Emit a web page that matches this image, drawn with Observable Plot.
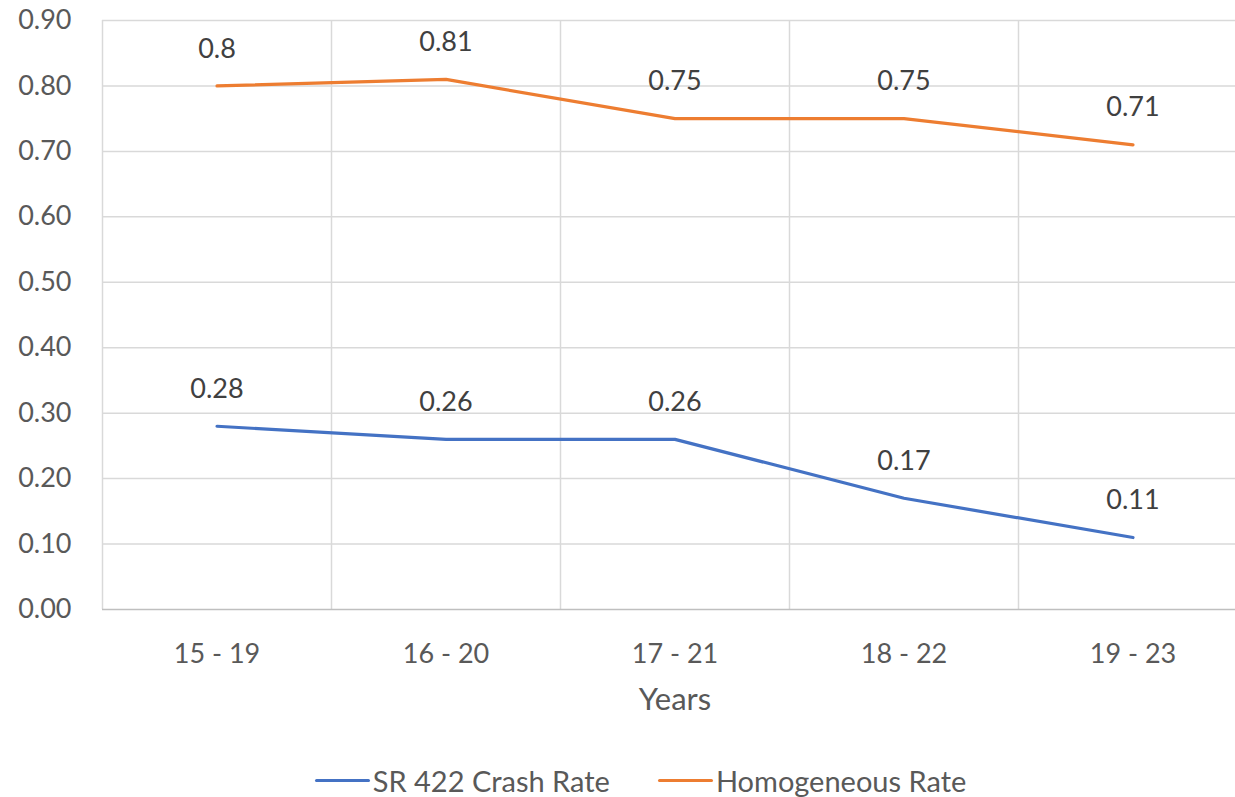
<!DOCTYPE html>
<html>
<head>
<meta charset="utf-8">
<script src="https://cdn.jsdelivr.net/npm/d3@7"></script>
<script src="https://cdn.jsdelivr.net/npm/@observablehq/plot@0.6"></script>
<style>
  html, body { margin: 0; padding: 0; background: #fff; overflow: hidden; }
  #chart svg { overflow: visible; display: block; }
  .legend { display: flex; justify-content: center; align-items: center; height: 52px; margin-top: 9px;
    font-family: Lato, sans-serif; font-size: 29px; color: #595959; margin-left: 46px; }
  .legend .item { display: flex; align-items: center; margin: 0 24px; }
  .legend .sw { width: 55px; height: 3px; border-radius: 2px; margin-right: 3px; }
</style>
</head>
<body>
<div id="chart"></div>
<script>
const categories = ["15 - 19", "16 - 20", "17 - 21", "18 - 22", "19 - 23"];
const crashRate = [0.28, 0.26, 0.26, 0.17, 0.11];
const homogeneousRate = [0.8, 0.81, 0.75, 0.75, 0.71];
const crashLabels = ["0.28", "0.26", "0.26", "0.17", "0.11"];
const homogeneousLabels = ["0.8", "0.81", "0.75", "0.75", "0.71"];
const yTicks = [0, 0.1, 0.2, 0.3, 0.4, 0.5, 0.6, 0.7, 0.8, 0.9];
const seriesNames = ["SR 422 Crash Rate", "Homogeneous Rate"];
const seriesColors = ["#4472C4", "#ED7D31"];

const data = [];
categories.forEach((c, i) => {
  data.push({i, cat: c, series: seriesNames[0], value: crashRate[i], label: crashLabels[i]});
  data.push({i, cat: c, series: seriesNames[1], value: homogeneousRate[i], label: homogeneousLabels[i]});
});
const boundaries = categories.map((_, i) => i - 0.5).concat([categories.length - 0.5]);

const font = "Lato, sans-serif";
const chart = Plot.plot({
  width: 1235,
  height: 745,
  marginTop: 20,
  marginLeft: 102,
  marginRight: -12,
  marginBottom: 136,
  style: {fontFamily: font, background: "#fff"},
  x: {domain: [-0.5, categories.length - 0.5]},
  y: {domain: [0, 0.9]},
  color: {domain: seriesNames, range: seriesColors},
  marks: [
    Plot.ruleY(yTicks.filter(d => d > 0), {stroke: "#d9d9d9", strokeWidth: 1.5}),
    Plot.ruleX(boundaries, {stroke: "#d9d9d9", strokeWidth: 1.5}),
    Plot.ruleY([0], {stroke: "#bfbfbf", strokeWidth: 1.5}),
    Plot.axisY({ticks: yTicks, tickSize: 0, tickPadding: 31, tickFormat: d3.format(".2f"),
      fontSize: 27, fill: "#595959", label: null}),
    Plot.axisX({ticks: categories.map((_, i) => i), tickSize: 0, tickPadding: 34,
      tickFormat: i => categories[i], fontSize: 27, fill: "#595959",
      label: "Years", labelAnchor: "center", labelArrow: "none", labelOffset: 100}),
    Plot.line(data, {x: "i", y: "value", z: "series", stroke: "series", strokeWidth: 3.2}),
    Plot.text(data, {x: "i", y: "value", text: "label", dy: -37, fontSize: 27, fill: "#404040"})
  ]
});
// larger axis title
chart.querySelectorAll("text").forEach(t => { if (t.textContent === "Years") t.setAttribute("font-size", 31); });
document.getElementById("chart").appendChild(chart);

const legend = document.createElement("div");
legend.className = "legend";
seriesNames.forEach((name, k) => {
  const item = document.createElement("div");
  item.className = "item";
  const sw = document.createElement("div");
  sw.className = "sw";
  sw.style.background = seriesColors[k];
  const label = document.createElement("span");
  label.textContent = name;
  item.appendChild(sw); item.appendChild(label);
  legend.appendChild(item);
});
document.body.appendChild(legend);
</script>
</body>
</html>
